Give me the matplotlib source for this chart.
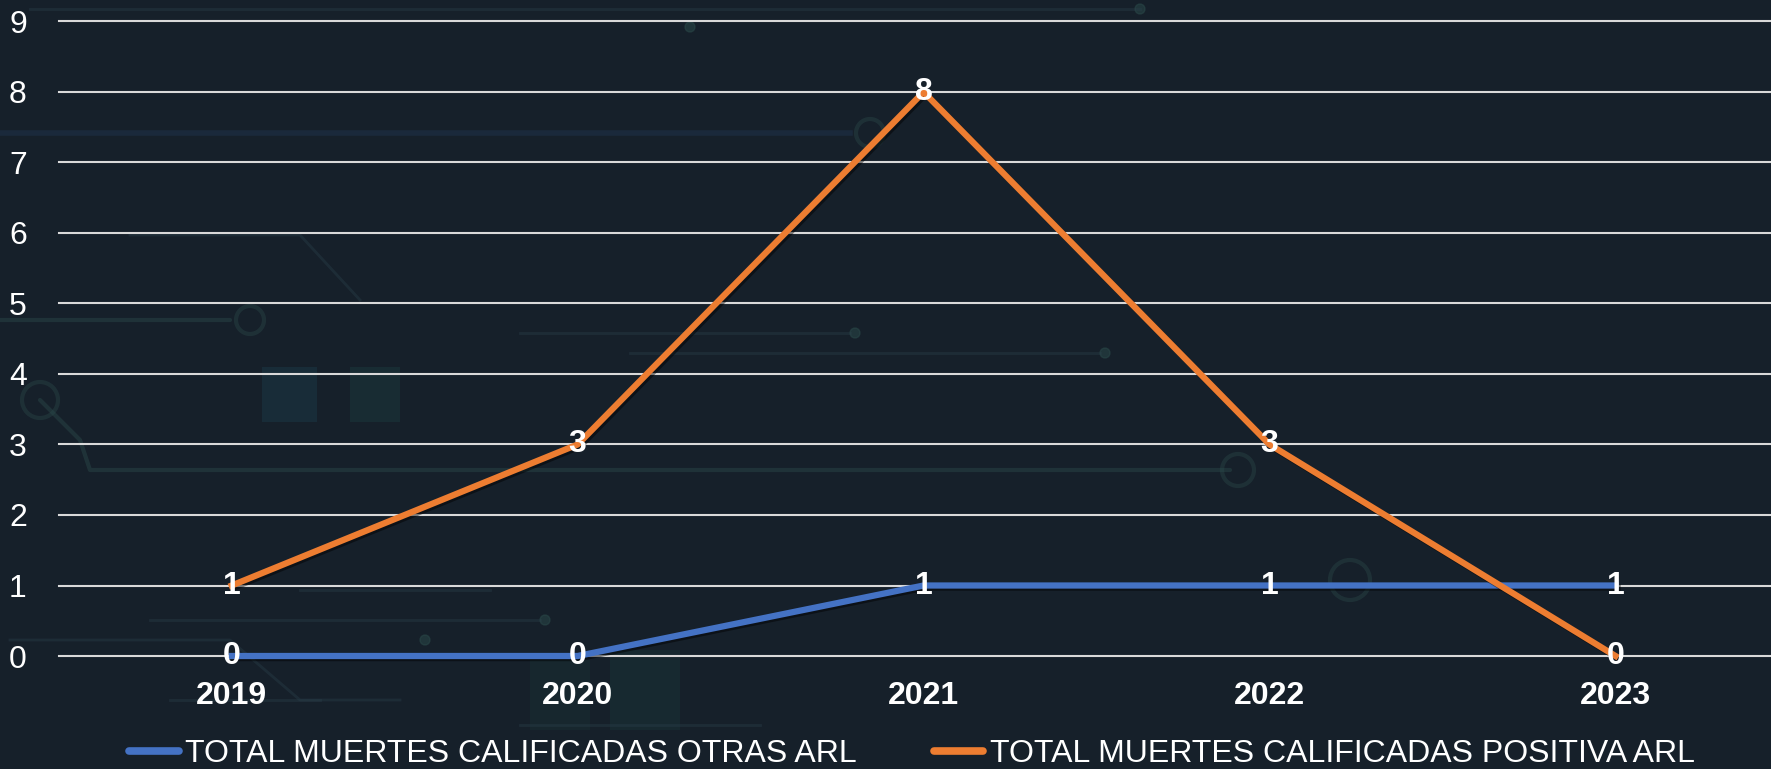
import matplotlib
matplotlib.use("Agg")
import matplotlib.pyplot as plt
import matplotlib.patheffects as pe
from matplotlib.patches import Circle, Rectangle

plt.rcParams["font.family"] = ["Liberation Sans", "DejaVu Sans"]

# Data
years = ["2019", "2020", "2021", "2022", "2023"]
otras_arl = [0, 0, 1, 1, 1]
positiva_arl = [1, 3, 8, 3, 0]
series_names = ["TOTAL MUERTES CALIFICADAS OTRAS ARL",
                "TOTAL MUERTES CALIFICADAS POSITIVA ARL"]
y_ticks = list(range(0, 10))

BG = "#16202a"
BLUE = "#4472c4"
ORANGE = "#ed7d31"
GRID = "#d9d9d9"
W, H = 1771, 769
FS = 23

fig = plt.figure(figsize=(W / 100, H / 100), dpi=100, facecolor=BG)

# Faint circuit-board decoration behind the chart
deco = fig.add_axes([0, 0, 1, 1], zorder=0)
deco.set_xlim(0, W)
deco.set_ylim(H, 0)
deco.axis("off")
deco.set_facecolor(BG)
trace = dict(color="#2b4a4a", lw=3, alpha=0.45, solid_capstyle="round")
thin = dict(color="#2a3f4a", lw=2, alpha=0.4)
traces = [
    ([0, 230], [320, 320], trace),
    ([40, 80, 90, 1230], [400, 440, 470, 470], trace),
    ([0, 850], [133, 133], dict(color="#1f3550", lw=4, alpha=0.45)),
    ([30, 1140], [9, 9], thin),
    ([520, 850], [333, 333], thin),
    ([630, 1100], [353, 353], thin),
    ([130, 300, 360], [235, 235, 300], thin),
    ([10, 230, 300, 400], [640, 640, 700, 700], thin),
    ([150, 540], [620, 620], thin),
    ([170, 320], [700, 700], thin),
    ([520, 760], [725, 725], thin),
    ([300, 490], [590, 590], thin),
]
for xs, ys, st in traces:
    deco.plot(xs, ys, **st)
for (cx, cy, r) in [(250, 320, 14), (870, 133, 14), (1238, 470, 16),
                    (1350, 580, 20), (40, 400, 18)]:
    deco.add_patch(Circle((cx, cy), r, fill=False, ec="#2b4a4a", lw=3, alpha=0.4))
for (cx, cy) in [(855, 333), (1105, 353), (690, 27), (1140, 9), (425, 640), (545, 620)]:
    deco.add_patch(Circle((cx, cy), 5, color="#2b4a4a", alpha=0.5))
for (x0, y0, w, h, c) in [(262, 367, 55, 55, "#1f4a5a"), (350, 367, 50, 55, "#1f4a4a"),
                          (610, 650, 70, 80, "#1a4040"), (530, 660, 60, 70, "#1a3a3a")]:
    deco.add_patch(Rectangle((x0, y0), w, h, color=c, alpha=0.3, lw=0))

# Main chart
left, right = 58.7 / W, 1788.5 / W
bottom, top = (H - 656.0) / H, (H - 21.5) / H
ax = fig.add_axes([left, bottom, right - left, top - bottom], zorder=1)
ax.patch.set_alpha(0)

x = list(range(len(years)))
ax.set_xlim(-0.5, len(years) - 0.5)
ax.set_ylim(0, 9)

for yv in y_ticks:
    ax.axhline(yv, color=GRID, lw=1.5, zorder=1, clip_on=False)

shadow = [pe.SimpleLineShadow(offset=(1.5, -1.5), shadow_color="black", alpha=0.45),
          pe.Normal()]
ax.plot(x, otras_arl, color=BLUE, lw=4.5, label=series_names[0], zorder=3,
        solid_joinstyle="round", clip_on=False, path_effects=shadow)
ax.plot(x, positiva_arl, color=ORANGE, lw=4.5, label=series_names[1], zorder=4,
        solid_joinstyle="round", clip_on=False, path_effects=shadow)

for xi, v in zip(x, otras_arl):
    ax.text(xi, v, str(v), ha="center", va="center", color="white",
            fontsize=FS, fontweight="bold", zorder=6)
for xi, v in zip(x, positiva_arl):
    ax.text(xi, v, str(v), ha="center", va="center", color="white",
            fontsize=FS, fontweight="bold", zorder=6)

ax.set_yticks(y_ticks)
ax.set_yticklabels([str(t) for t in y_ticks])
ax.set_xticks(x)
ax.set_xticklabels(years, fontweight="bold")
ax.tick_params(axis="y", length=0, pad=23, labelsize=FS, labelcolor="white")
ax.tick_params(axis="x", length=0, pad=18, labelsize=FS, labelcolor="white")
for s in ax.spines.values():
    s.set_visible(False)

handles, labels = ax.get_legend_handles_labels()
leg = fig.legend(handles, labels, loc="center", ncol=2,
                 bbox_to_anchor=(912 / W, 1 - 754 / H), frameon=False,
                 fontsize=FS, labelcolor="white", handlelength=1.55,
                 handletextpad=0.2, columnspacing=2.4, borderaxespad=0)
for h in leg.get_lines():
    h.set_linewidth(5.5)
    h.set_solid_capstyle("round")
    h.set_path_effects([])

fig.savefig("out.png", dpi=100, facecolor=BG)
